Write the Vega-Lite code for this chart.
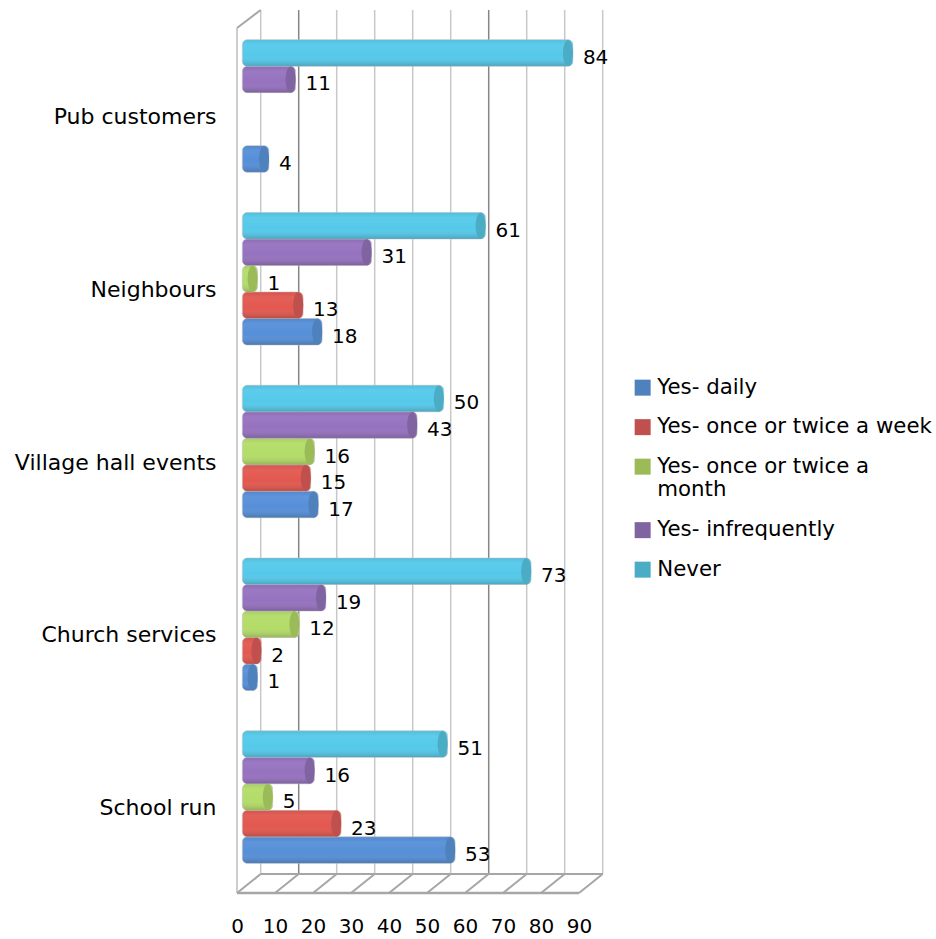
{
"$schema":"https://vega.github.io/schema/vega-lite/v6.json",
"width":342,"height":864,
"autosize":{"type":"none"},
"padding":{"left":260.7,"top":10,"right":333.3,"bottom":65},
"background":"white",
"config":{"view":{"stroke":null},"font":"DejaVu Sans",
 "axisX":{"domain":false,"ticks":false,"grid":false,"tickCount":10,"labelOffset":-23.7,"labelPadding":42,"labelFontSize":20,"labelColor":"#000000","labelFont":"DejaVu Sans","labelFlush":false,"labelOverlap":false},
 "axisY":{"domain":false,"ticks":false,"grid":false,"labelFontSize":22,"labelColor":"#000000","labelFont":"DejaVu Sans","labelPadding":44.7,"labelOffset":11,"labelLimit":260}
},
"datasets":{
"rows":[
{"category":"Pub customers","series":"Yes- daily","value":4},
{"category":"Pub customers","series":"Yes- infrequently","value":11},
{"category":"Pub customers","series":"Never","value":84},
{"category":"Neighbours","series":"Yes- daily","value":18},
{"category":"Neighbours","series":"Yes- once or twice a week","value":13},
{"category":"Neighbours","series":"Yes- once or twice a month","value":1},
{"category":"Neighbours","series":"Yes- infrequently","value":31},
{"category":"Neighbours","series":"Never","value":61},
{"category":"Village hall events","series":"Yes- daily","value":17},
{"category":"Village hall events","series":"Yes- once or twice a week","value":15},
{"category":"Village hall events","series":"Yes- once or twice a month","value":16},
{"category":"Village hall events","series":"Yes- infrequently","value":43},
{"category":"Village hall events","series":"Never","value":50},
{"category":"Church services","series":"Yes- daily","value":1},
{"category":"Church services","series":"Yes- once or twice a week","value":2},
{"category":"Church services","series":"Yes- once or twice a month","value":12},
{"category":"Church services","series":"Yes- infrequently","value":19},
{"category":"Church services","series":"Never","value":73},
{"category":"School run","series":"Yes- daily","value":53},
{"category":"School run","series":"Yes- once or twice a week","value":23},
{"category":"School run","series":"Yes- once or twice a month","value":5},
{"category":"School run","series":"Yes- infrequently","value":16},
{"category":"School run","series":"Never","value":51}
],
"ticks":[{"tick":0},{"tick":10},{"tick":20},{"tick":30},{"tick":40},{"tick":50},{"tick":60},{"tick":70},{"tick":80},{"tick":90}]
},
"layer":[
{"data":{"name":"ticks"},
 "mark":{"type":"rule","strokeWidth":1.5},
 "encoding":{
  "x":{"field":"tick","type":"quantitative","scale":{"domain":[0,90],"nice":false,"zero":false},"axis":{"title":null}},
  "y":{"value":0},"y2":{"value":"height"},
  "stroke":{"condition":{"test":"datum.tick==10||datum.tick==60","value":"#858585"},"value":"#c8c8c8"}}},
{"data":{"name":"ticks"},
 "mark":{"type":"point","shape":"M0,0 L-23.7,19","size":4,"filled":false,"stroke":"#a6a6a6","strokeWidth":2,"opacity":1},
 "encoding":{
  "x":{"field":"tick","type":"quantitative","axis":{"title":null}},
  "y":{"value":"height"}}},
{"data":{"name":"ticks"},"transform":[{"filter":"datum.tick==0"}],
 "mark":{"type":"point","shape":"M0,0 L-23.7,18","size":4,"filled":false,"stroke":"#a6a6a6","strokeWidth":2,"opacity":1},
 "encoding":{"x":{"field":"tick","type":"quantitative","axis":{"title":null}},"y":{"value":0}}},
{"data":{"name":"ticks"},"transform":[{"filter":"datum.tick==0"}],
 "mark":{"type":"rule","stroke":"#bdbdbd","strokeWidth":1.5,"xOffset":-23.7,"yOffset":18,"y2Offset":19},
 "encoding":{"x":{"field":"tick","type":"quantitative","axis":{"title":null}},"y":{"value":0},"y2":{"value":"height"}}},
{"data":{"name":"ticks"},"transform":[{"filter":"datum.tick==0"}],
 "mark":{"type":"rule","stroke":"#a6a6a6","strokeWidth":2.5,"xOffset":-23.7,"x2Offset":-23.7,"yOffset":19},
 "encoding":{"x":{"datum":0,"type":"quantitative","axis":{"title":null}},"x2":{"datum":90},"y":{"value":"height"}}},
{"data":{"name":"ticks"},"transform":[{"filter":"datum.tick==0"}],
 "mark":{"type":"rule","stroke":"#a6a6a6","strokeWidth":2},
 "encoding":{"x":{"datum":0,"type":"quantitative","axis":{"title":null}},"x2":{"datum":90},"y":{"value":"height"}}},
{"data":{"name":"rows"},
 "mark":{"type":"bar","cornerRadius":5,"xOffset":-7,"x2Offset":-18.4,"stroke":"#c4c4c4","strokeWidth":0.6},
 "encoding":{
  "x":{"field":"value","type":"quantitative","stack":null,"axis":{"title":null}},
  "x2":{"datum":0},
  "y":{"field":"category","type":"nominal","sort":["Pub customers","Neighbours","Village hall events","Church services","School run"],
   "scale":{"range":[9.5,873.5],"paddingInner":0.233,"paddingOuter":0.1165},
   "axis":{"title":null}},
  "yOffset":{"field":"series","type":"nominal","sort":["Never","Yes- infrequently","Yes- once or twice a month","Yes- once or twice a week","Yes- daily"]},
  "fill":{"field":"series","type":"nominal","legend":null,"sort":["Yes- daily","Yes- once or twice a week","Yes- once or twice a month","Yes- infrequently","Never"],
   "scale":{"range":["#568fd8","#e2584f","#b3dc68","#9672bf","#55c9ea"]}}}},
{"data":{"name":"rows"},
 "mark":{"type":"bar","cornerRadius":5,"xOffset":-7,"x2Offset":-18.4,
  "fill":{"gradient":"linear","x1":0,"y1":0,"x2":0,"y2":1,"stops":[{"offset":0,"color":"rgba(0,0,0,0.06)"},{"offset":0.2,"color":"rgba(255,255,255,0.05)"},{"offset":0.6,"color":"rgba(255,255,255,0)"},{"offset":1,"color":"rgba(0,0,0,0.18)"}]}},
 "encoding":{
  "x":{"field":"value","type":"quantitative","stack":null,"axis":{"title":null}},
  "x2":{"datum":0},
  "y":{"field":"category","type":"nominal","sort":["Pub customers","Neighbours","Village hall events","Church services","School run"],"axis":{"title":null}},
  "yOffset":{"field":"series","type":"nominal","sort":["Never","Yes- infrequently","Yes- once or twice a month","Yes- once or twice a week","Yes- daily"]}}},
{"data":{"name":"rows"},
 "mark":{"type":"point","shape":"M0,-13 A5,13 0 1 1 0,13 A5,13 0 1 1 0,-13 Z","size":4,"filled":true,"opacity":1,"xOffset":-11.9},
 "encoding":{
  "x":{"field":"value","type":"quantitative","axis":{"title":null}},
  "y":{"field":"category","type":"nominal","sort":["Pub customers","Neighbours","Village hall events","Church services","School run"],"axis":{"title":null}},
  "yOffset":{"field":"series","type":"nominal","sort":["Never","Yes- infrequently","Yes- once or twice a month","Yes- once or twice a week","Yes- daily"]},
  "color":{"field":"series","type":"nominal",
   "scale":{"domain":["Yes- daily","Yes- once or twice a week","Yes- once or twice a month","Yes- infrequently","Never"],"range":["#4f81bd","#c0504d","#9bbb59","#8064a2","#4bacc6"]},
   "legend":{"title":null,"orient":"none","legendX":371.3,"legendY":367,"symbolType":"square","symbolSize":256,"symbolStrokeWidth":0,"labelFontSize":21.3,"labelFont":"DejaVu Sans","labelColor":"#000000","labelOffset":4,"labelLimit":320,"rowPadding":17.5,
    "encoding":{"labels":{"update":{"lineHeight":{"value":30}}}},
    "labelExpr":"datum.label=='Yes- once or twice a month'?['Yes- once or twice a','month']:datum.label"}}}},
{"data":{"name":"rows"},
 "mark":{"type":"text","align":"left","baseline":"middle","dx":3,"dy":5,"fontSize":20,"font":"DejaVu Sans","color":"#000000"},
 "encoding":{
  "x":{"field":"value","type":"quantitative","axis":{"title":null}},
  "y":{"field":"category","type":"nominal","sort":["Pub customers","Neighbours","Village hall events","Church services","School run"],"axis":{"title":null}},
  "yOffset":{"field":"series","type":"nominal","sort":["Never","Yes- infrequently","Yes- once or twice a month","Yes- once or twice a week","Yes- daily"]},
  "text":{"field":"value","type":"quantitative"}}}
]
}
